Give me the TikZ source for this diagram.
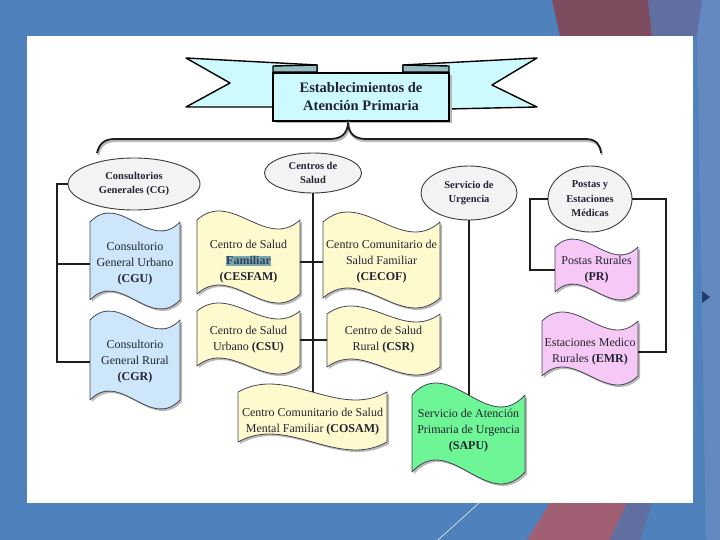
\documentclass[tikz,border=0pt]{standalone}
\usepackage{fontspec}
\setmainfont{Liberation Serif}
\usetikzlibrary{shapes.geometric}
\definecolor{bgblue}{RGB}{79,129,189}
\definecolor{maroonA}{RGB}{127,75,94}
\definecolor{maroonB}{RGB}{160,95,114}
\definecolor{slateA}{RGB}{96,110,160}
\definecolor{lightblueR}{RGB}{100,137,192}
\definecolor{bulletc}{RGB}{35,60,110}
\definecolor{banfill}{RGB}{205,250,255}
\definecolor{banfold}{RGB}{150,190,195}
\definecolor{ovalfill}{RGB}{243,243,243}
\definecolor{ovalline}{RGB}{60,60,60}
\definecolor{connc}{RGB}{30,30,30}
\definecolor{docline}{RGB}{70,70,85}
\definecolor{shadowc}{RGB}{185,185,185}
\definecolor{fblue}{RGB}{205,230,250}
\definecolor{fyellow}{RGB}{255,250,205}
\definecolor{fpink}{RGB}{245,200,245}
\definecolor{fgreen}{RGB}{110,245,150}
\definecolor{txt}{RGB}{35,35,50}
\definecolor{hlc}{RGB}{125,165,172}
\definecolor{hltext}{RGB}{40,70,90}
\newcommand{\wavedoc}[6]{%
  \pgfmathsetmacro{\wa}{#1+(#2-#1)/3}%
  \pgfmathsetmacro{\wb}{#1+2*(#2-#1)/3}%
  \pgfmathsetmacro{\tu}{#3-3.46*#5}%
  \pgfmathsetmacro{\td}{#3+3.46*#5}%
  \pgfmathsetmacro{\bu}{#4-3.46*#5}%
  \pgfmathsetmacro{\bd}{#4+3.46*#5}%
  \fill[shadowc, shift={(2,2)}] (#1,#3) .. controls (\wa,\tu) and (\wb,\td) .. (#2,#3) -- (#2,#4) .. controls (\wb,\bd) and (\wa,\bu) .. (#1,#4) -- cycle;
  \draw[docshape, fill=#6] (#1,#3) .. controls (\wa,\tu) and (\wb,\td) .. (#2,#3) -- (#2,#4) .. controls (\wb,\bd) and (\wa,\bu) .. (#1,#4) -- cycle;
}
\begin{document}
\begin{tikzpicture}[x=1pt,y=-1pt,
  docshape/.style={draw=docline, line width=0.8pt, line join=round},
  doctext/.style={inner sep=0pt, align=center, text=txt, font=\fontsize{12}{16}\selectfont},
  oval/.style={ellipse, draw=ovalline, line width=0.9pt, fill=ovalfill, inner sep=0pt, align=center, text=txt, font=\bfseries\fontsize{10.5}{14.5}\selectfont},
  conn/.style={draw=connc, line width=1.6pt},
  banline/.style={draw=black, line width=1.4pt, line join=round}]
\useasboundingbox (0,0) rectangle (720,540);
% background
\fill[bgblue] (0,0) rectangle (720,540);
\fill[maroonA] (552,0) -- (648,0) -- (652,36) -- (560,36) -- cycle;
\fill[slateA] (648,0) -- (702,0) -- (697,36) -- (652,36) -- cycle;
\fill[lightblueR] (702,0) -- (720,0) -- (720,540) -- (706,540) -- (697,36) -- cycle;
\fill[maroonB] (550,503) -- (627,503) -- (610,540) -- (527,540) -- cycle;
\fill[slateA] (627,503) -- (652,503) -- (640,540) -- (610,540) -- cycle;
\draw[white, line width=0.5pt] (479,503) -- (438,540);
\fill[bulletc] (702,291) -- (710,297) -- (702,303) -- cycle;
\fill[white] (27,36) rectangle (693,503);

% banner
\draw[banline, fill=banfill] (186,58) -- (317,65) -- (317,107) -- (186,107) -- (230,83) -- cycle;
\draw[banline, fill=banfill] (537,58) -- (403,65) -- (403,110) -- (537,107) -- (492,85) -- cycle;
\draw[banline, fill=banfold] (273,66) -- (317,65) -- (317,72) -- (273,72) -- cycle;
\draw[banline, fill=banfold] (449,66) -- (403,65) -- (403,72) -- (449,72) -- cycle;
\fill[shadowc] (276,75) rectangle (452,123);
\node[draw=black, line width=1.6pt, fill=banfill, minimum width=176pt, minimum height=48pt, inner sep=0pt, align=center, text=txt, font=\bfseries\fontsize{14.5}{18}\selectfont] (title) at (361,97) {Establecimientos de\\Atención Primaria};

% brace
\draw[draw=shadowc, line width=2.2pt, shift={(1,2)}] (97,153) .. controls (99,145) and (103,139) .. (115,139) -- (330,139) .. controls (342,139) and (347,133) .. (348,124) .. controls (349,133) and (354,139) .. (366,139) -- (585,139) .. controls (597,139) and (600,145) .. (601,153);
\draw[draw=connc, line width=1.8pt] (97,153) .. controls (99,145) and (103,139) .. (115,139) -- (330,139) .. controls (342,139) and (347,133) .. (348,124) .. controls (349,133) and (354,139) .. (366,139) -- (585,139) .. controls (597,139) and (600,145) .. (601,153);

% category ovals
\node[oval, minimum width=132pt, minimum height=52pt] (cg) at (134,184) {Consultorios\\Generales (CG)};
\node[oval, minimum width=97pt, minimum height=40pt] (cs) at (313,173) {Centros de\\Salud};
\node[oval, minimum width=96pt, minimum height=54pt] (su) at (469,193) {Servicio de\\Urgencia};
\node[oval, minimum width=84pt, minimum height=66pt] (pe) at (590,199) {Postas y\\Estaciones\\Médicas};

% wave documents
\wavedoc{90}{180}{222}{300}{9}{fblue}
\wavedoc{90}{180}{320}{400}{9}{fblue}
\wavedoc{197}{300}{220}{294}{9}{fyellow}
\wavedoc{323}{440}{222}{298}{10}{fyellow}
\wavedoc{197}{300}{311}{366}{8}{fyellow}
\wavedoc{327}{440}{314}{367}{8}{fyellow}
\wavedoc{238}{387}{392}{442}{8}{fyellow}
\wavedoc{412}{525}{395}{472}{12}{fgreen}
\wavedoc{555}{638}{247}{292}{8}{fpink}
\wavedoc{542}{638}{321}{376}{9}{fpink}

\node[doctext, minimum width=90pt] (cgu) at (135,264) {Consultorio\\General Urbano\\\textbf{(CGU)}};
\node[doctext, minimum width=90pt] (cgr) at (135,362) {Consultorio\\General Rural\\\textbf{(CGR)}};
\node[doctext, minimum width=103pt] (cesfam) at (248.5,262) {Centro de Salud\\{\fboxsep=0.6pt\colorbox{hlc}{\textcolor{hltext}{\textbf{Familiar}}}}\\\textbf{(CESFAM)}};
\node[doctext, minimum width=117pt] (cecof) at (381.5,262) {Centro Comunitario de\\Salud Familiar\\\textbf{(CECOF)}};
\node[doctext, minimum width=103pt] (csu) at (248.5,340) {Centro de Salud\\Urbano \textbf{(CSU)}};
\node[doctext, minimum width=113pt] (csr) at (383.5,340) {Centro de Salud\\Rural \textbf{(CSR)}};
\node[doctext, minimum width=149pt, minimum height=60pt] (cosam) at (312.5,422) {Centro Comunitario de Salud\\Mental Familiar \textbf{(COSAM)}};
\node[doctext, minimum width=113pt, minimum height=72pt] (sapu) at (468.5,431) {Servicio de Atención\\Primaria de Urgencia\\\textbf{(SAPU)}};
\node[doctext, minimum width=83pt] (pr) at (596.5,270) {Postas Rurales\\\textbf{(PR)}};
\node[doctext, minimum width=96pt] (emr) at (590,352) {Estaciones Medico\\Rurales \textbf{(EMR)}};

% connectors
\coordinate (ll) at (57,0);
\coordinate (pl) at (530,0);
\coordinate (rl) at (666,0);
\draw[conn] (cg.west) -| (ll |- cgr.west) -- (cgr.west);
\draw[conn] (cgu.west) -- (cgu.west -| ll);
\draw[conn] (cs.south) -- (cs.south |- cosam.north);
\draw[conn] (cesfam.east) -- (cecof.west);
\draw[conn] (csu.east) -- (csr.west);
\draw[conn] (su.south) -- (su.south |- sapu.north);
\draw[conn] (pe.west) -| (pl |- pr.west) -- (pr.west);
\draw[conn] (pe.east) -| (rl |- emr.east) -- (emr.east);
\end{tikzpicture}
\end{document}
